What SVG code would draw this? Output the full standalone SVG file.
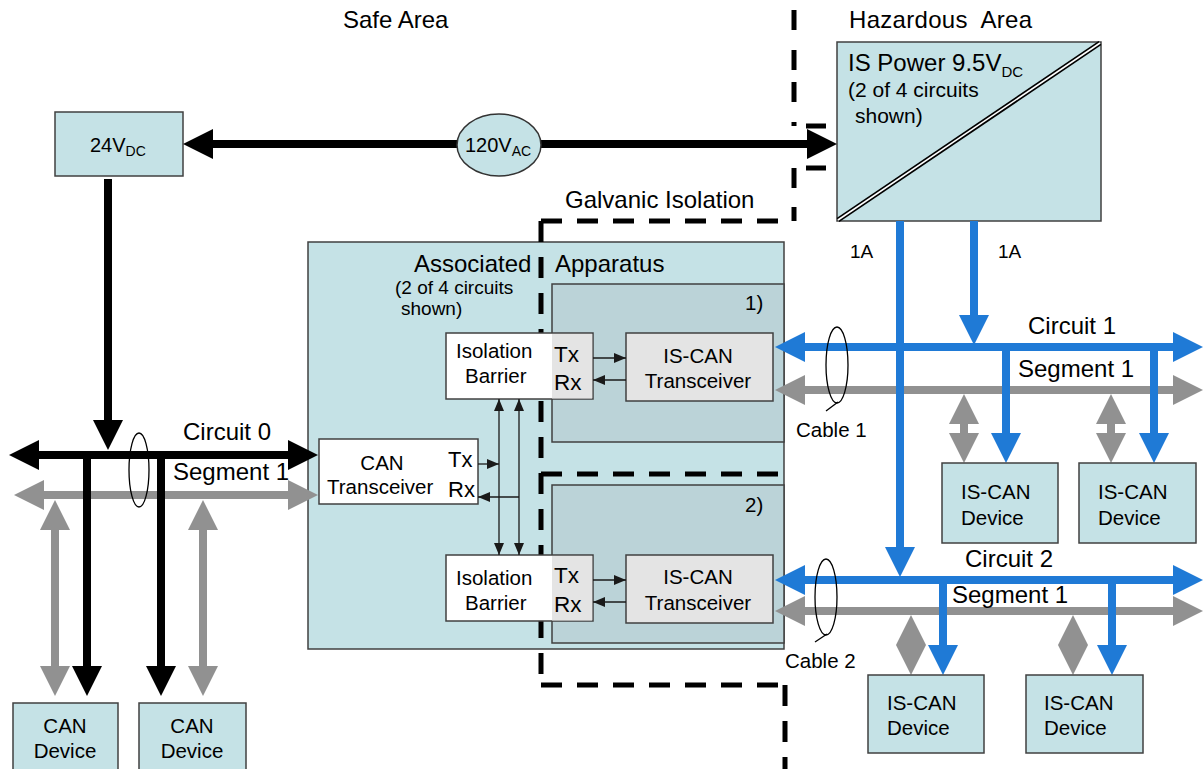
<svg xmlns="http://www.w3.org/2000/svg" width="1203" height="769" viewBox="0 0 1203 769">
<style>
text{font-family:"Liberation Sans",Arial,sans-serif;fill:#000}
.h{font-size:24px}
.m{font-size:20.5px}
.s{font-size:19px}
.box{fill:#c5e2e6;stroke:#404040;stroke-width:1.5}
.wbox{fill:#fff;stroke:#404040;stroke-width:1.5}
.gbox{fill:#e4e4e4;stroke:#404040;stroke-width:1.5}
.shade{fill:#bbd3d8;stroke:#404040;stroke-width:1.5}
.gal{fill:none;stroke:#000;stroke-width:5;stroke-dasharray:21 15}
.galp{fill:none;stroke:#000;stroke-width:5}
.bk{stroke:#000;stroke-width:8;fill:none}
.bl{stroke:#1f7ad6;stroke-width:8;fill:none}
.gy{stroke:#919191;stroke-width:8;fill:none}
.th{stroke:#1a1a1a;stroke-width:1.3;fill:none}
.cab{fill:none;stroke:#000;stroke-width:1.3}
.mid{text-anchor:middle}
</style>
<defs>
<marker id="mk" viewBox="0 0 30 30" refX="4" refY="15" markerWidth="30" markerHeight="30" markerUnits="userSpaceOnUse" orient="auto-start-reverse"><path d="M0,0 L30,15 L0,30 Z" fill="#000"/></marker>
<marker id="mb" viewBox="0 0 30 30" refX="4" refY="15" markerWidth="30" markerHeight="30" markerUnits="userSpaceOnUse" orient="auto-start-reverse"><path d="M0,0 L30,15 L0,30 Z" fill="#1f7ad6"/></marker>
<marker id="mg" viewBox="0 0 30 30" refX="4" refY="15" markerWidth="30" markerHeight="30" markerUnits="userSpaceOnUse" orient="auto-start-reverse"><path d="M0,0 L30,15 L0,30 Z" fill="#919191"/></marker>
<marker id="ms" viewBox="0 0 12 10" refX="12" refY="5" markerWidth="12" markerHeight="10" markerUnits="userSpaceOnUse" orient="auto-start-reverse"><path d="M0,0 L12,5 L0,10 Z" fill="#1a1a1a"/></marker>
</defs>
<rect width="1203" height="769" fill="#fff"/>

<g id="area-labels">
<text class="h" x="343" y="28">Safe Area</text>
<text class="h" x="849" y="28" textLength="183" xml:space="preserve">Hazardous  Area</text>
<text class="h" x="565" y="208">Galvanic Isolation</text>
</g>

<g id="associated-apparatus">
<rect class="box" x="308" y="242" width="476" height="407"/>
<text class="h" x="414" y="272">Associated</text>
<text class="h" x="555" y="272">Apparatus</text>
<text class="s" x="395" y="294">(2 of 4 circuits</text>
<text class="s" x="401" y="315">shown)</text>
</g>

<g id="galvanic-isolation">
<path class="galp" d="M794 10V30M794 50V70M794 82V102M794 122V126M794 168V188M794 207V221M806 126H826M806 168H826"/>
<path class="gal" d="M541 221H785"/>
<path class="gal" d="M541 221V685"/>
<path class="gal" d="M541 685H785"/>
<path class="gal" d="M785 685V769"/>
<path class="gal" d="M541 474H784"/>
</g>

<g id="circuit-1-block">
<rect class="shade" x="552" y="284" width="232" height="158"/>
<text class="m" x="745" y="310">1)</text>
</g>
<g id="circuit-2-block">
<rect class="shade" x="552" y="485" width="232" height="158"/>
<text class="m" x="745" y="512">2)</text>
</g>

<g id="isolation-barrier-1">
<rect class="wbox" x="446" y="333" width="147" height="66"/>
<rect x="552" y="334" width="40.2" height="64.5" fill="#e4e4e4"/>
<text class="m" x="456" y="358">Isolation</text>
<text class="m" x="465" y="383">Barrier</text>
<text x="554" y="362" font-size="22.5">Tx</text>
<text x="554" y="390" font-size="22.5">Rx</text>
</g>
<g id="is-can-transceiver-1">
<rect class="gbox" x="626" y="333" width="147" height="68"/>
<text class="m mid" x="698" y="363">IS-CAN</text>
<text class="m mid" x="698" y="388">Transceiver</text>
</g>

<g id="isolation-barrier-2">
<rect class="wbox" x="446" y="555" width="147" height="66"/>
<rect x="552" y="556" width="40.2" height="64.5" fill="#e4e4e4"/>
<text class="m" x="456" y="585">Isolation</text>
<text class="m" x="465" y="610">Barrier</text>
<text x="554" y="583" font-size="22.5">Tx</text>
<text x="554" y="612" font-size="22.5">Rx</text>
</g>
<g id="is-can-transceiver-2">
<rect class="gbox" x="626" y="555" width="147" height="68"/>
<text class="m mid" x="698" y="584">IS-CAN</text>
<text class="m mid" x="698" y="610">Transceiver</text>
</g>

<g id="can-transceiver">
<rect class="wbox" x="319" y="439" width="159" height="65"/>
<text class="m mid" x="382" y="470">CAN</text>
<text class="m" x="327" y="494">Transceiver</text>
<text x="448" y="467" font-size="22">Tx</text>
<text x="448" y="497" font-size="22">Rx</text>
</g>

<g id="supply-24vdc">
<rect class="box" x="55" y="112" width="128" height="64"/>
<text x="90" y="152" font-size="20">24V<tspan font-size="14" dy="4">DC</tspan></text>
</g>

<g id="is-power">
<rect class="box" x="837" y="42" width="264" height="179"/>
<line x1="838" y1="220" x2="1100" y2="43" stroke="#000" stroke-width="5"/>
<line x1="838" y1="220" x2="1100" y2="43" stroke="#fff" stroke-width="1.6"/>
<text class="h" x="848" y="71">IS Power 9.5V<tspan font-size="15" dy="6">DC</tspan></text>
<text x="848" y="97" font-size="21">(2 of 4 circuits</text>
<text x="855" y="123" font-size="21">shown)</text>
<text class="s" x="850" y="258">1A</text>
<text class="s" x="998" y="258">1A</text>
</g>

<g id="connectors">
<!-- gray segments -->
<line class="gy" x1="40" y1="495" x2="292" y2="495" marker-start="url(#mg)" marker-end="url(#mg)"/>
<line class="gy" x1="55" y1="526" x2="55" y2="670" marker-start="url(#mg)" marker-end="url(#mg)"/>
<line class="gy" x1="203" y1="526" x2="203" y2="670" marker-start="url(#mg)" marker-end="url(#mg)"/>
<line class="gy" x1="801" y1="390" x2="1177" y2="390" marker-start="url(#mg)" marker-end="url(#mg)"/>
<line class="gy" x1="964" y1="420" x2="964" y2="437" marker-start="url(#mg)" marker-end="url(#mg)"/>
<line class="gy" x1="1111" y1="420" x2="1111" y2="437" marker-start="url(#mg)" marker-end="url(#mg)"/>
<line class="gy" x1="801" y1="611" x2="1177" y2="611" marker-start="url(#mg)" marker-end="url(#mg)"/>
<line class="gy" x1="911" y1="641" x2="911" y2="649" marker-start="url(#mg)" marker-end="url(#mg)"/>
<line class="gy" x1="1073" y1="641" x2="1073" y2="649" marker-start="url(#mg)" marker-end="url(#mg)"/>
<!-- black power / circuit 0 -->
<line class="bk" x1="209" y1="144" x2="811" y2="144" marker-start="url(#mk)" marker-end="url(#mk)"/>
<line class="bk" x1="108" y1="179" x2="108" y2="424" marker-end="url(#mk)"/>
<line class="bk" x1="35" y1="455" x2="292" y2="455" marker-start="url(#mk)" marker-end="url(#mk)"/>
<line class="bk" x1="87" y1="455" x2="87" y2="670" marker-end="url(#mk)"/>
<line class="bk" x1="161" y1="455" x2="161" y2="670" marker-end="url(#mk)"/>
<!-- blue IS circuits -->
<line class="bl" x1="801" y1="347" x2="1177" y2="347" marker-start="url(#mb)" marker-end="url(#mb)"/>
<line class="bl" x1="801" y1="580" x2="1177" y2="580" marker-start="url(#mb)" marker-end="url(#mb)"/>
<line class="bl" x1="974" y1="221" x2="974" y2="319" stroke-width="7" marker-end="url(#mb)"/>
<line class="bl" x1="900" y1="221" x2="900" y2="551" stroke-width="7" marker-end="url(#mb)"/>
<line class="bl" x1="1006" y1="347" x2="1006" y2="437" marker-end="url(#mb)"/>
<line class="bl" x1="1154" y1="347" x2="1154" y2="437" marker-end="url(#mb)"/>
<line class="bl" x1="943" y1="580" x2="943" y2="649" marker-end="url(#mb)"/>
<line class="bl" x1="1112" y1="580" x2="1112" y2="649" marker-end="url(#mb)"/>
<!-- thin signal arrows -->
<line class="th" x1="593" y1="358" x2="626" y2="358" marker-end="url(#ms)"/>
<line class="th" x1="626" y1="380" x2="593" y2="380" marker-end="url(#ms)"/>
<line class="th" x1="593" y1="580" x2="626" y2="580" marker-end="url(#ms)"/>
<line class="th" x1="626" y1="602" x2="593" y2="602" marker-end="url(#ms)"/>
<line class="th" x1="478" y1="464" x2="499" y2="464" marker-end="url(#ms)"/>
<line class="th" x1="519" y1="497" x2="478" y2="497" marker-end="url(#ms)"/>
<line class="th" x1="499" y1="399" x2="499" y2="555" marker-start="url(#ms)" marker-end="url(#ms)"/>
<line class="th" x1="519" y1="399" x2="519" y2="555" marker-start="url(#ms)" marker-end="url(#ms)"/>
<!-- cables -->
<ellipse class="cab" cx="139" cy="470" rx="10" ry="37"/>
<ellipse class="cab" cx="837" cy="365" rx="11" ry="38"/>
<line class="cab" x1="838" y1="402" x2="826" y2="411"/>
<ellipse class="cab" cx="826" cy="597" rx="11" ry="38"/>
<line class="cab" x1="827" y1="634" x2="815" y2="642"/>
</g>

<g id="supply-120vac">
<ellipse cx="499" cy="145" rx="42" ry="31" fill="#c5e2e6" stroke="#333" stroke-width="1.5"/>
<text x="465" y="152" font-size="20">120V<tspan font-size="14" dy="4">AC</tspan></text>
</g>

<g id="bus-labels">
<text class="h" x="183" y="440">Circuit 0</text>
<text class="h" x="173" y="480">Segment 1</text>
<text class="h" x="1028" y="334">Circuit 1</text>
<text class="h" x="1018" y="377">Segment 1</text>
<text class="h" x="965" y="567">Circuit 2</text>
<text class="h" x="952" y="603">Segment 1</text>
<text class="m" x="796" y="437">Cable 1</text>
<text class="m" x="785" y="668">Cable 2</text>
</g>

<g id="can-device-1">
<rect class="box" x="13" y="703" width="105" height="72"/>
<text class="m mid" x="65" y="733">CAN</text>
<text class="m mid" x="65" y="758">Device</text>
</g>
<g id="can-device-2">
<rect class="box" x="139" y="703" width="107" height="72"/>
<text class="m mid" x="192" y="733">CAN</text>
<text class="m mid" x="192" y="758">Device</text>
</g>
<g id="is-can-device-1a">
<rect class="box" x="942" y="463" width="116" height="80"/>
<text class="m" x="961" y="499">IS-CAN</text>
<text class="m" x="961" y="525">Device</text>
</g>
<g id="is-can-device-1b">
<rect class="box" x="1079" y="463" width="117" height="80"/>
<text class="m" x="1098" y="499">IS-CAN</text>
<text class="m" x="1098" y="525">Device</text>
</g>
<g id="is-can-device-2a">
<rect class="box" x="868" y="675" width="116" height="78"/>
<text class="m" x="887" y="710">IS-CAN</text>
<text class="m" x="887" y="735">Device</text>
</g>
<g id="is-can-device-2b">
<rect class="box" x="1026" y="675" width="117" height="78"/>
<text class="m" x="1044" y="710">IS-CAN</text>
<text class="m" x="1044" y="735">Device</text>
</g>
</svg>
